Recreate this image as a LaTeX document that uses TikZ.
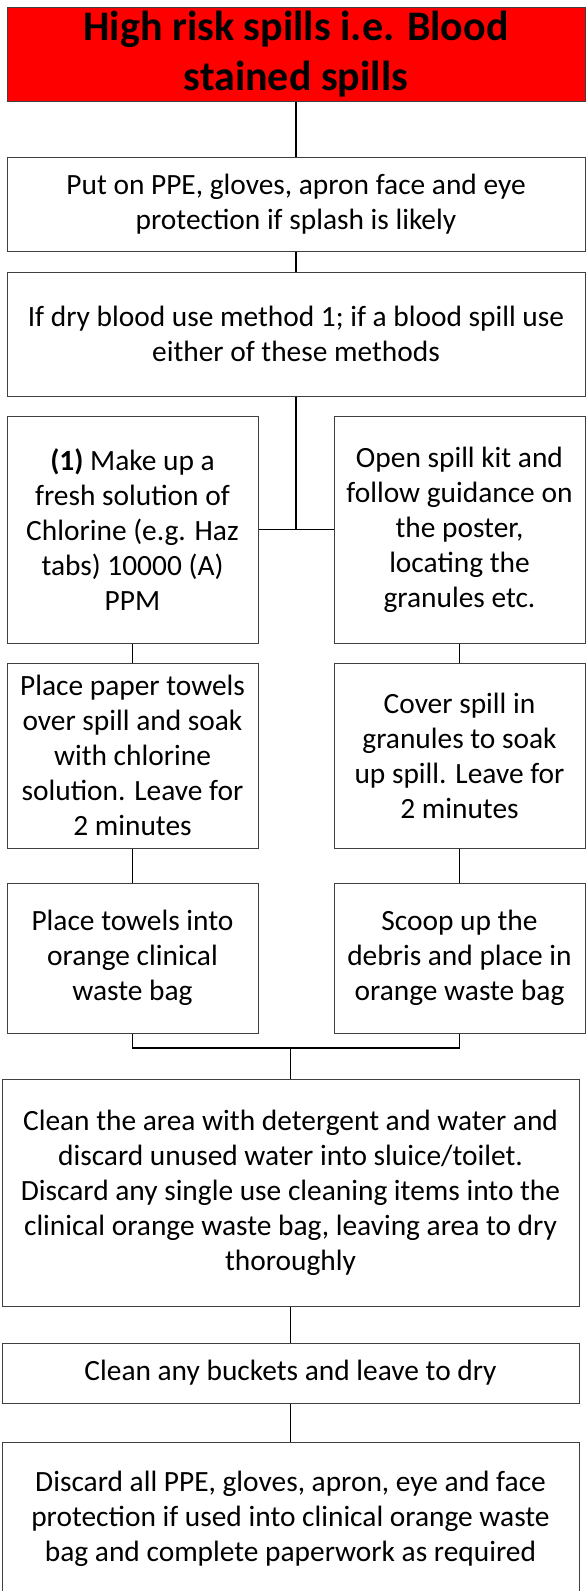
\documentclass[tikz,border=0pt]{standalone}
\usepackage{fontspec}
\setmainfont{Carlito}
\begin{document}
\begin{tikzpicture}[x=1pt,y=-1pt,
    box/.style={draw=black!75,line width=1pt,fill=white,align=center,inner sep=0pt,
      font=\fontsize{29.4}{35}\selectfont},
    titlebox/.style={box,fill=red,font=\fontsize{42}{50}\selectfont\bfseries},
    link/.style={draw=black,line width=1.2pt}]
            % Page size
            \useasboundingbox (0,0) rectangle (586,1591);

            % Top part
            \node[titlebox,minimum width=578pt,minimum height=94pt] (title) at (296,54)
              {High risk spills i.e. Blood\\stained spills};
            \node[box,minimum width=578pt,minimum height=94pt] (ppe) at (296,204)
              {Put on PPE, gloves, apron face and eye\\protection if splash is likely};
            \node[box,minimum width=578pt,minimum height=124pt] (method) at (296,334)
              {If dry blood use method 1; if a blood spill use\\either of these methods};

            % Method 1 (left) and spill kit (right)
            \node[box,minimum width=251pt,minimum height=227pt] (chlor) at (132.5,529.5)
              {\textbf{(1)} Make up a\\fresh solution of\\Chlorine (e.g. Haz\\tabs) 10000 (A)\\PPM};
            \node[box,minimum width=251pt,minimum height=227pt] (kit) at (459.5,529.5)
              {Open spill kit and\\follow guidance on\\the poster,\\locating the\\granules etc.};
            \node[box,minimum width=251pt,minimum height=185pt] (towels) at (132.5,755.5)
              {Place paper towels\\over spill and soak\\with chlorine\\solution. Leave for\\2 minutes};
            \node[box,minimum width=251pt,minimum height=185pt] (cover) at (459.5,755.5)
              {Cover spill in\\granules to soak\\up spill. Leave for\\2 minutes};
            \node[box,minimum width=251pt,minimum height=150pt] (bagl) at (132.5,958)
              {Place towels into\\orange clinical\\waste bag};
            \node[box,minimum width=251pt,minimum height=150pt] (scoop) at (459.5,958)
              {Scoop up the\\debris and place in\\orange waste bag};

            % Bottom part
            \node[box,minimum width=577pt,minimum height=227pt] (clean) at (290.5,1192.5)
              {Clean the area with detergent and water and\\discard unused water into sluice/toilet.\\Discard any single use cleaning items into the\\clinical orange waste bag, leaving area to dry\\thoroughly};
            \node[box,minimum width=577pt,minimum height=60pt] (buckets) at (290.5,1373)
              {Clean any buckets and leave to dry};
            \node[box,minimum width=577pt,minimum height=154pt] (discard) at (290.5,1519)
              {Discard all PPE, gloves, apron, eye and face\\protection if used into clinical orange waste\\bag and complete paperwork as required};

            % Connectors
            \draw[link] (title) -- (ppe);
            \draw[link] (ppe) -- (method);
            \draw[link] (method.south) -- (method.south |- chlor.east);
            \draw[link] (chlor.east) -- (kit.west);
            \draw[link] (chlor) -- (towels);
            \draw[link] (kit) -- (cover);
            \draw[link] (towels) -- (bagl);
            \draw[link] (cover) -- (scoop);
            \coordinate (join) at (290.5,1048);
            \draw[link] (bagl.south) |- (join) -| (scoop.south);
            \draw[link] (join) -- (clean.north);
            \draw[link] (clean) -- (buckets);
            \draw[link] (buckets) -- (discard);
          \end{tikzpicture}
\end{document}
